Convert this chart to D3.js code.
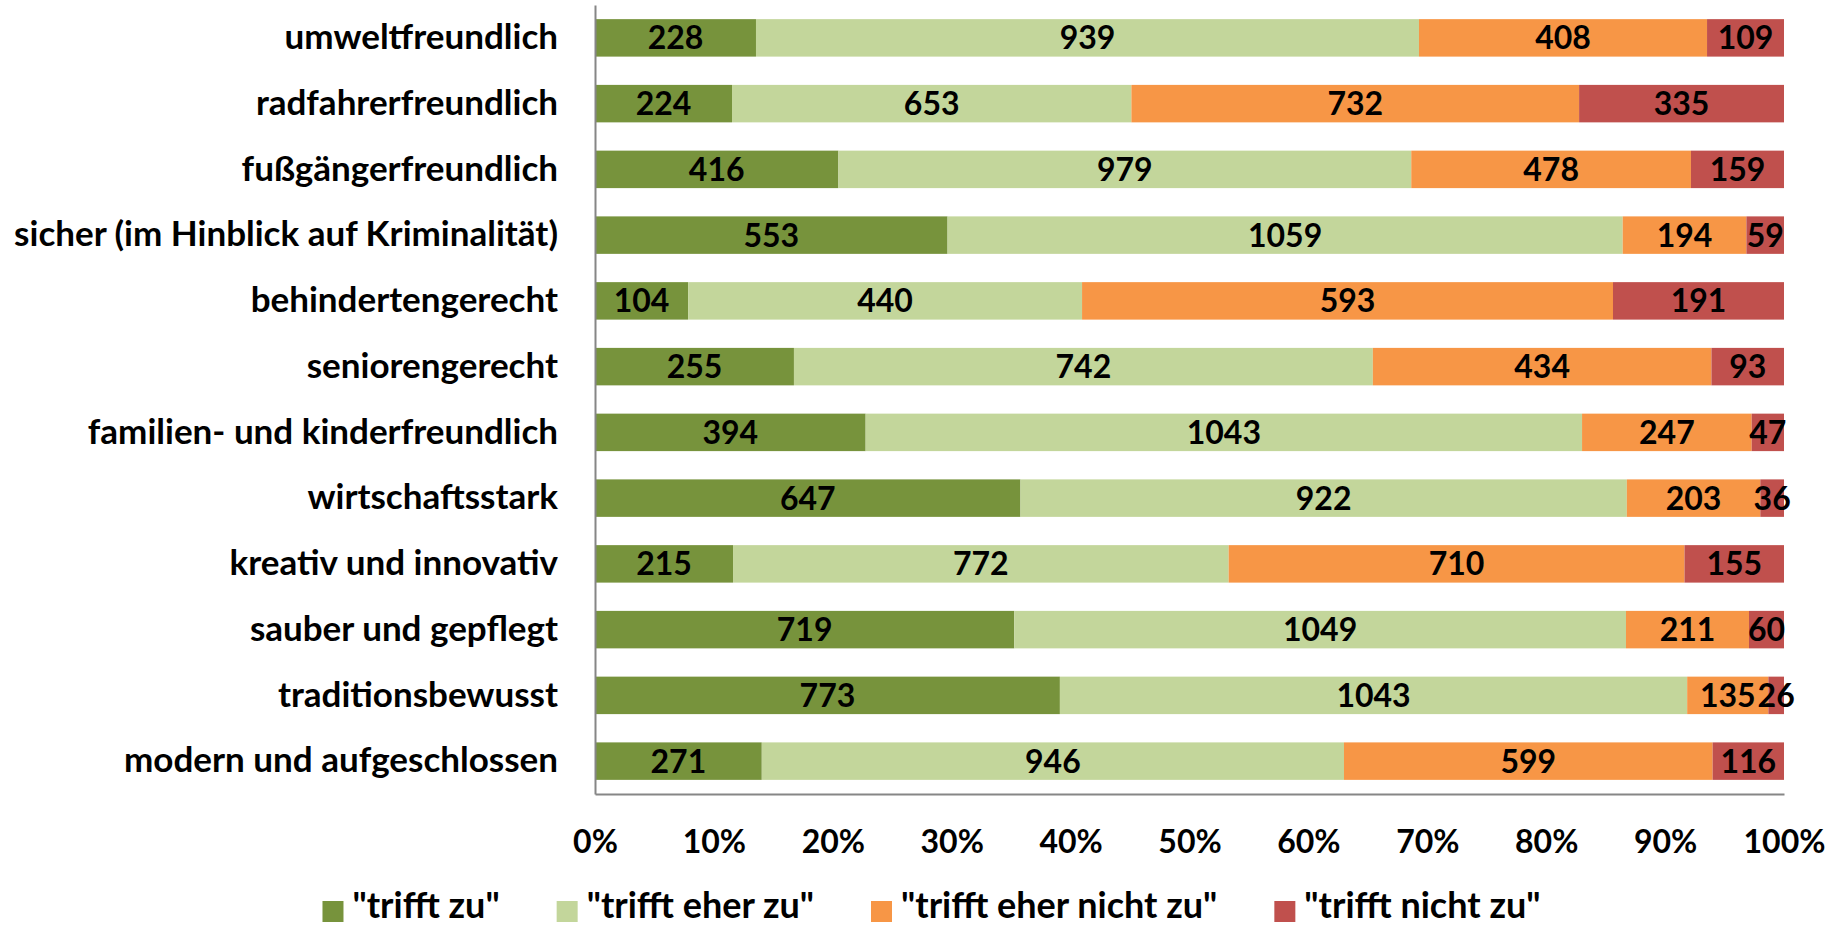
<!DOCTYPE html>
<html><head><meta charset="utf-8">
<script src="https://cdn.jsdelivr.net/npm/d3@7/dist/d3.min.js"></script>
<style>body{margin:0;background:#fff;overflow:hidden}svg{display:block}text{font-family:Lato,"Open Sans",sans-serif;font-weight:bold;fill:#000}</style>
</head><body><svg id="c" width="1847" height="926"></svg>
<script>
const categories = ["umweltfreundlich","radfahrerfreundlich","fußgängerfreundlich","sicher (im Hinblick auf Kriminalität)","behindertengerecht","seniorengerecht","familien- und kinderfreundlich","wirtschaftsstark","kreativ und innovativ","sauber und gepflegt","traditionsbewusst","modern und aufgeschlossen"];
const seriesNames = ['"trifft zu"','"trifft eher zu"','"trifft eher nicht zu"','"trifft nicht zu"'];
const trifftZu =        [228,224,416,553,104,255,394,647,215,719,773,271];
const trifftEherZu =    [939,653,979,1059,440,742,1043,922,772,1049,1043,946];
const trifftEherNicht = [408,732,478,194,593,434,247,203,710,211,135,599];
const trifftNicht =     [109,335,159,59,191,93,47,36,155,60,26,116];
const tickValues = [0,0.1,0.2,0.3,0.4,0.5,0.6,0.7,0.8,0.9,1];
const colors = ["#77933C","#C3D69B","#F79646","#C0504D"];

const seriesVals = [trifftZu,trifftEherZu,trifftEherNicht,trifftNicht];
const rows = categories.map((c,i)=>{const o={cat:c};seriesVals.forEach((s,k)=>o["s"+k]=s[i]);return o;});
const keys = ["s0","s1","s2","s3"];
const stacked = d3.stack().keys(keys).offset(d3.stackOffsetExpand)(rows);

const svg = d3.select("#c");
const L=595,R=1784,T=5,B=794;
const x = d3.scaleLinear().domain([0,1]).range([L,R]);
const y = d3.scaleBand().domain(categories).range([T,B]).paddingInner(0.43).paddingOuter(0.215);
const FS=32, CFS=35, LFS=36;

const g = svg.append("g");
stacked.forEach((layer,k)=>{
  g.selectAll(null).data(layer).enter().append("rect")
    .attr("x",d=>x(d[0])).attr("width",d=>x(d[1])-x(d[0]))
    .attr("y",d=>y(d.data.cat)).attr("height",y.bandwidth())
    .attr("fill",colors[k]);
});
stacked.forEach((layer,k)=>{
  g.selectAll(null).data(layer).enter().append("text")
    .attr("x",d=>(x(d[0])+x(d[1]))/2).attr("y",d=>y(d.data.cat)+y.bandwidth()/2)
    .attr("text-anchor","middle").attr("dy","0.36em")
    .style("font-size",FS+"px").text(d=>d.data[keys[k]]);
});

// axes
const xa = svg.append("g").attr("transform",`translate(0,${B})`)
  .call(d3.axisBottom(x).tickValues(tickValues).tickFormat(d3.format(".0%")).tickSize(0).tickPadding(36));
xa.select(".domain").attr("stroke","#868686").attr("stroke-width",2);
xa.selectAll("text").style("font-size",FS+"px").style("font-family","Lato,sans-serif").attr("fill","#000");

const ya = svg.append("g").attr("transform",`translate(${L},0)`)
  .call(d3.axisLeft(y).tickSize(0).tickPadding(37));
ya.select(".domain").attr("stroke","#868686").attr("stroke-width",2);
ya.selectAll("text").style("font-size",CFS+"px").style("font-family","Lato,sans-serif").attr("fill","#000");

// legend
const leg = svg.append("g");
const items = seriesNames.map((n,k)=>{
  const it = leg.append("g");
  it.append("rect").attr("width",21).attr("height",21).attr("y",-17).attr("fill",colors[k]);
  const t = it.append("text").attr("x",30).attr("y",0).style("font-size",LFS+"px").text(n);
  return {it,w:30+t.node().getComputedTextLength()};
});
const gap=57;
const total = d3.sum(items,d=>d.w)+gap*(items.length-1);
let cx = 931.5-total/2;
items.forEach(d=>{d.it.attr("transform",`translate(${cx},918)`);cx+=d.w+gap;});
</script></body></html>
